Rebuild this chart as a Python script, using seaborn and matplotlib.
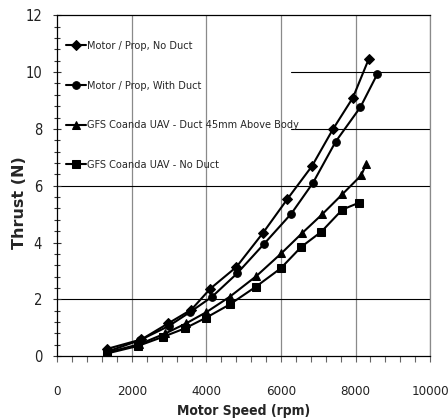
import matplotlib
matplotlib.use("Agg")
import matplotlib.pyplot as plt
import seaborn as sns
import pandas as pd
from matplotlib.ticker import MultipleLocator
from matplotlib import font_manager as fm

# ---- data ----
labels = ["Motor / Prop, No Duct",
          "Motor / Prop, With Duct",
          "GFS Coanda UAV - Duct 45mm Above Body",
          "GFS Coanda UAV - No Duct"]

rpm_no_duct = [1319, 2257, 2970, 3598, 4107, 4804, 5518, 6171, 6831, 7394, 7930, 8351]
thr_no_duct = [0.25, 0.59, 1.15, 1.64, 2.38, 3.14, 4.34, 5.53, 6.69, 7.99, 9.10, 10.45]

rpm_with_duct = [1319, 2212, 2989, 3571, 4150, 4821, 5544, 6279, 6858, 7466, 8128, 8584]
thr_with_duct = [0.15, 0.56, 1.06, 1.56, 2.09, 2.91, 3.95, 5.02, 6.10, 7.55, 8.76, 9.93]

rpm_uav_45 = [1319, 2200, 2900, 3450, 4000, 4625, 5340, 6010, 6574, 7110, 7646, 8155, 8289]
thr_uav_45 = [0.12, 0.42, 0.80, 1.15, 1.55, 2.09, 2.82, 3.62, 4.34, 5.00, 5.70, 6.37, 6.78]

rpm_uav_nd = [1319, 2166, 2836, 3418, 4000, 4625, 5322, 5992, 6547, 7083, 7646, 8091]
thr_uav_nd = [0.09, 0.36, 0.68, 0.975, 1.36, 1.82, 2.44, 3.09, 3.85, 4.38, 5.16, 5.40]

x_ticks = [0, 2000, 4000, 6000, 8000, 10000]
y_ticks = [0, 2, 4, 6, 8, 10, 12]

series = [(labels[0], rpm_no_duct, thr_no_duct),
          (labels[1], rpm_with_duct, thr_with_duct),
          (labels[2], rpm_uav_45, thr_uav_45),
          (labels[3], rpm_uav_nd, thr_uav_nd)]
rows = []
for name, xs, ys in series:
    for a, b in zip(xs, ys):
        rows.append({"series": name, "rpm": a, "thrust": b})
df = pd.DataFrame(rows)

sns.set_style("white")

# condensed font if available
cond_files = [f.fname for f in fm.fontManager.ttflist
              if f.name == "DejaVu Sans" and "Condensed" in f.fname and "Bold" not in f.fname and "Oblique" not in f.fname]
condb_files = [f.fname for f in fm.fontManager.ttflist
               if f.name == "DejaVu Sans" and "Condensed" in f.fname and "Bold" in f.fname and "Oblique" not in f.fname]
if cond_files:
    fp_reg = lambda s: fm.FontProperties(fname=cond_files[0], size=s)
else:
    fp_reg = lambda s: fm.FontProperties(family="Liberation Sans", size=s)
if condb_files:
    fp_bold = lambda s: fm.FontProperties(fname=condb_files[0], size=s)
else:
    fp_bold = lambda s: fm.FontProperties(family="Liberation Sans", weight="bold", size=s)

fig = plt.figure(figsize=(4.48, 4.19), dpi=100)
ax = fig.add_axes([0.128, 0.150, 0.832, 0.8135])

# grid lines (as in reference)
for xv in x_ticks[1:]:
    ax.axvline(xv, color="#8a8a8a", lw=0.9, zorder=0)
ax.axhline(2, color="black", lw=0.8, zorder=0)
ax.axhline(6, color="black", lw=0.8, zorder=0)
ax.axhline(8, xmin=0.627, color="black", lw=0.8, zorder=0)
ax.axhline(10, xmin=0.627, color="black", lw=0.8, zorder=0)

markers = {labels[0]: "D", labels[1]: "o", labels[2]: "^", labels[3]: "s"}
sns.lineplot(data=df, x="rpm", y="thrust", style="series", style_order=labels,
             markers=markers, dashes=False, color="black", lw=1.5,
             markersize=5.5, markeredgecolor="black", sort=False,
             estimator=None, units="series", ax=ax, legend=True)

ax.set_xlim(0, 10000)
ax.set_ylim(0, 12)
ax.set_xticks(x_ticks)
ax.set_yticks(y_ticks)
ax.xaxis.set_minor_locator(MultipleLocator(400))
ax.yaxis.set_minor_locator(MultipleLocator(0.4))
ax.tick_params(axis="x", which="both", direction="out", bottom=True, length=4,
               width=0.8, color="#666666", pad=17)
ax.tick_params(axis="y", which="major", direction="inout", left=True, length=6,
               width=0.8, color="#333333", pad=8)
ax.tick_params(axis="y", which="minor", direction="inout", left=True, length=4,
               width=0.8, color="#333333")
for lab in ax.get_xticklabels():
    lab.set_fontproperties(fp_reg(9.5))
    lab.set_color("#222222")
for lab in ax.get_yticklabels():
    lab.set_fontproperties(fp_reg(10.5))
    lab.set_color("#222222")

for s in ["left", "bottom", "top"]:
    ax.spines[s].set_color("black")
    ax.spines[s].set_linewidth(0.9)
ax.spines["right"].set_color("#8a8a8a")
ax.spines["right"].set_linewidth(0.9)

ax.set_xlabel("Motor Speed (rpm)", fontproperties=fp_bold(10))
ax.xaxis.set_label_coords(0.5, -0.141)
ax.set_ylabel("Thrust (N)", fontsize=11.5, fontweight="bold")
ax.yaxis.set_label_coords(-0.082, 0.45)

handles, labs = ax.get_legend_handles_labels()
leg = ax.legend(handles, labs, loc="upper left", bbox_to_anchor=(0.006, 0.944),
                frameon=False, prop=fp_reg(7.8),
                handlelength=1.85, handletextpad=0.1, labelspacing=2.75,
                borderpad=0.6, borderaxespad=0.0)
leg.set_zorder(1)
for h in leg.legend_handles:
    h.set_linewidth(1.5)
    h.set_color("black")

fig.savefig("out.png", dpi=100)
